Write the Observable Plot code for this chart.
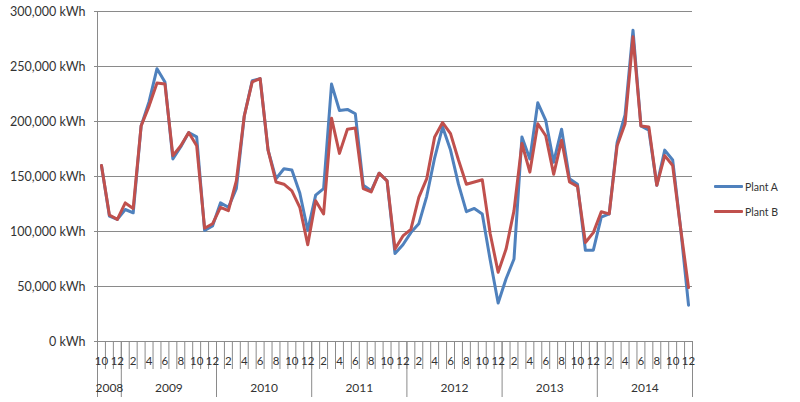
<!DOCTYPE html>
<html><head><meta charset="utf-8">
<script src="https://cdn.jsdelivr.net/npm/d3@7"></script>
<script src="https://cdn.jsdelivr.net/npm/@observablehq/plot@0.6"></script>
<style>
body{margin:0;background:#fff;}
#wrap{position:relative;width:800px;height:402px;overflow:hidden;}
.legend{position:absolute;left:714px;top:174px;font:10.5px Lato,sans-serif;color:#333;}
.item{display:flex;align-items:center;height:25px;}
.swatch{width:29px;height:3px;margin-right:2px;border-radius:1px;}
</style></head><body>
<div id="wrap"></div>
<script>
// Categories: Oct 2008 .. Dec 2014 (monthly)
const categories = [
"2008-10","2008-11","2008-12",
"2009-01","2009-02","2009-03","2009-04","2009-05","2009-06","2009-07","2009-08","2009-09","2009-10","2009-11","2009-12",
"2010-01","2010-02","2010-03","2010-04","2010-05","2010-06","2010-07","2010-08","2010-09","2010-10","2010-11","2010-12",
"2011-01","2011-02","2011-03","2011-04","2011-05","2011-06","2011-07","2011-08","2011-09","2011-10","2011-11","2011-12",
"2012-01","2012-02","2012-03","2012-04","2012-05","2012-06","2012-07","2012-08","2012-09","2012-10","2012-11","2012-12",
"2013-01","2013-02","2013-03","2013-04","2013-05","2013-06","2013-07","2013-08","2013-09","2013-10","2013-11","2013-12",
"2014-01","2014-02","2014-03","2014-04","2014-05","2014-06","2014-07","2014-08","2014-09","2014-10","2014-11","2014-12"
];
const plantA = [
160000,114000,111000,
120000,117000,196000,218000,248000,236000,166000,177000,190000,186000,101000,105000,
126000,122000,139000,205000,237000,239000,174000,148000,157000,156000,135000,101000,
133000,139000,234000,210000,211000,207000,142000,137000,153000,146000,80000,88000,
99000,107000,132000,167000,195000,174000,143000,118000,121000,116000,74000,35000,
57000,75000,186000,166000,217000,201000,163000,193000,148000,143000,83000,83000,
113000,116000,181000,206000,283000,196000,192000,142000,174000,165000,103000,33000
];
const plantB = [
160000,115000,111000,
126000,121000,196000,214000,235000,234000,169000,178000,190000,178000,103000,107000,
122000,119000,146000,205000,236000,239000,174000,145000,143000,137000,122000,88000,
128000,116000,203000,171000,193000,194000,139000,136000,153000,146000,84000,96000,
102000,131000,148000,186000,199000,189000,165000,143000,145000,147000,98000,63000,
84000,119000,180000,154000,198000,187000,152000,183000,145000,141000,90000,99000,
118000,116000,178000,198000,277000,196000,195000,142000,169000,160000,103000,49000
];
const seriesNames = ["Plant A","Plant B"];
const seriesColors = ["#4F81BD","#C0504D"];
const yTicks = [0,50000,100000,150000,200000,250000,300000];

// derived tables
const rows = [];
categories.forEach((c,i)=>{
  rows.push({i, series:seriesNames[0], value:plantA[i]});
});
categories.forEach((c,i)=>{
  rows.push({i, series:seriesNames[1], value:plantB[i]});
});
const n = categories.length;
const monthOf = i => +categories[i].slice(5);
const yearOf = i => categories[i].slice(0,4);
const boundaries = d3.range(n+1).map(k => k-0.5);
const monthTickIdx = d3.range(0,n,2);
const years = Array.from(new Set(categories.map((c,i)=>yearOf(i))));
const yearGroups = years.map(y => {
  const idx = categories.map((c,i)=>i).filter(i=>yearOf(i)===y);
  return {year:y, start:idx[0], end:idx[idx.length-1]};
});
const yearBounds = [yearGroups[0].start-0.5, ...yearGroups.map(g=>g.end+0.5)];
const yearMids = yearGroups.map(g=>(g.start+g.end)/2);
const yearLabel = new Map(yearGroups.map(g=>[(g.start+g.end)/2, g.year]));

const grid = "#8a8a8a";
const ink = "#333";

const chart = Plot.plot({
  width: 800, height: 402,
  marginLeft: 97, marginRight: 108, marginTop: 11, marginBottom: 61,
  style: {fontFamily: "Lato, sans-serif", fontSize: "12px", color: ink, background: "#fff"},
  x: {type: "linear", domain: [-0.5, n-0.5]},
  y: {domain: [0, 300000]},
  marks: [
    Plot.gridY(yTicks, {stroke: grid, strokeOpacity: 1, strokeWidth: 1}),
    Plot.axisY(yTicks, {tickSize: 3, tickPadding: 9, stroke: grid, fill: ink, fontSize: 12.5,
      tickFormat: d => d3.format(",")(d) + " kWh", label: null}),
    Plot.ruleX([-0.5], {stroke: grid, strokeWidth: 1}),
    Plot.axisX(boundaries, {tickSize: 28, stroke: grid, tickFormat: () => "", label: null}),
    Plot.axisX(yearBounds, {tickSize: 56, stroke: grid, tickFormat: () => "", label: null}),
    Plot.axisX(monthTickIdx, {tickSize: 0, tickPadding: 15, fill: ink, fontSize: 11.5,
      tickFormat: i => String(monthOf(i)), label: null}),
    Plot.axisX(yearMids, {tickSize: 0, tickPadding: 42, fill: ink, fontSize: 12,
      tickFormat: m => yearLabel.get(m), label: null}),
    Plot.lineY(rows, {x: "i", y: "value", z: "series",
      stroke: d => d.series === seriesNames[0] ? seriesColors[0] : seriesColors[1],
      strokeWidth: 3, strokeLinejoin: "round", strokeLinecap: "round"})
  ]
});
const wrap = document.getElementById("wrap");
wrap.appendChild(chart);

const legend = document.createElement("div");
legend.className = "legend";
seriesNames.forEach((s,k)=>{
  const it = document.createElement("div");
  it.className = "item";
  it.innerHTML = `<span class="swatch" style="background:${seriesColors[k]}"></span><span>${s}</span>`;
  legend.appendChild(it);
});
wrap.appendChild(legend);
</script>
</body></html>
